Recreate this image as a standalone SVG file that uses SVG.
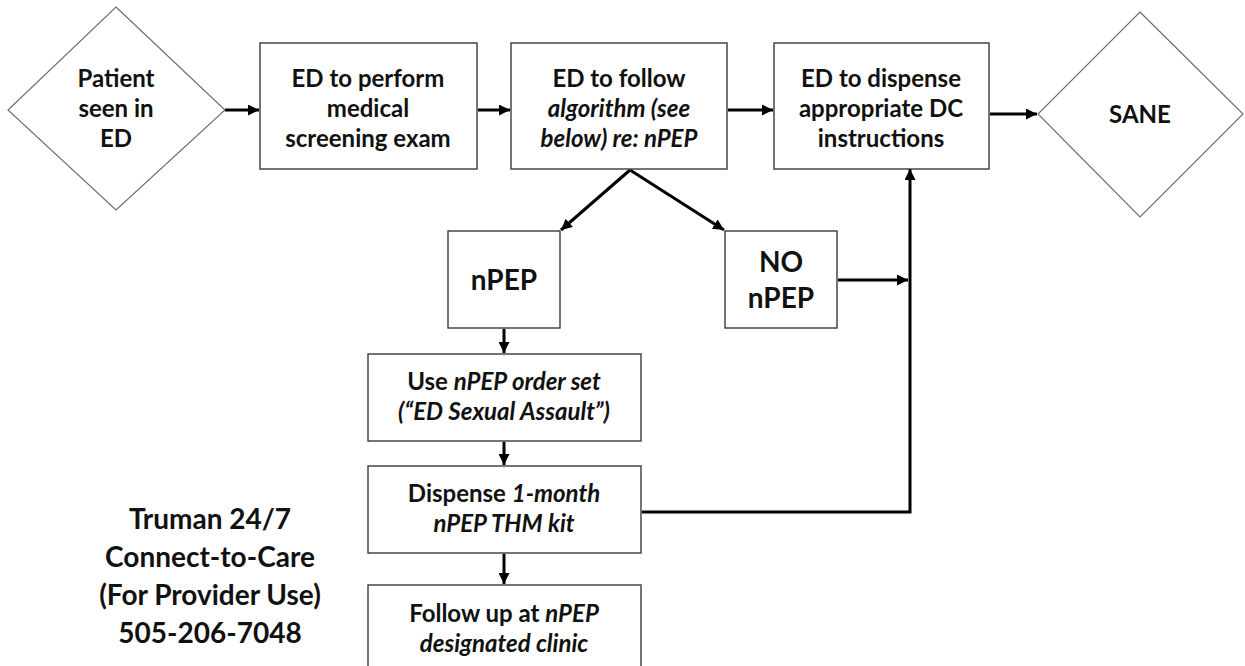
<svg xmlns="http://www.w3.org/2000/svg" width="1245" height="666" viewBox="0 0 1245 666">
<defs>
<style>
.box{fill:#fff;stroke:#3a3a3a;stroke-width:1.4}
.dia{fill:#fff;stroke:#6a6a6a;stroke-width:1.1}
.t{font-family:Lato,"Open Sans","Liberation Sans",sans-serif;font-weight:bold;font-size:24px;fill:#111;text-anchor:middle}
.big{font-size:28px}
.side{font-size:28px}
.i{font-style:italic}
.c{fill:none;stroke:#000;stroke-width:3}
</style>
<marker id="ah" viewBox="0 0 10 10" refX="10" refY="5" markerWidth="11" markerHeight="11" markerUnits="userSpaceOnUse" orient="auto">
<path d="M0,0 L10,5 L0,10 z" fill="#000"/>
</marker>
</defs>
<rect width="1245" height="666" fill="#fff"/>

<g id="connectors">
<line class="c" x1="225" y1="110" x2="259" y2="110" marker-end="url(#ah)"/>
<line class="c" x1="478" y1="110" x2="510" y2="110" marker-end="url(#ah)"/>
<line class="c" x1="728" y1="110" x2="773" y2="110" marker-end="url(#ah)"/>
<line class="c" x1="990" y1="114" x2="1037" y2="114" marker-end="url(#ah)"/>
<line class="c" x1="630" y1="170" x2="561" y2="230" marker-end="url(#ah)"/>
<line class="c" x1="630" y1="170" x2="724" y2="230" marker-end="url(#ah)"/>
<line class="c" x1="504" y1="329" x2="504" y2="353" marker-end="url(#ah)"/>
<line class="c" x1="504" y1="442" x2="504" y2="465" marker-end="url(#ah)"/>
<line class="c" x1="504" y1="554" x2="504" y2="584" marker-end="url(#ah)"/>
<line class="c" x1="838" y1="280" x2="908" y2="280" marker-end="url(#ah)"/>
<polyline class="c" points="642,512 910,512 910,169" marker-end="url(#ah)"/>
</g>

<g id="patient">
<polygon class="dia" points="116,7 225,110 116,210 8,110"/>
<text class="t" x="116" y="87">Patient</text>
<text class="t" x="116" y="117">seen in</text>
<text class="t" x="116" y="147">ED</text>
</g>

<g id="screening">
<rect class="box" x="260" y="43" width="217" height="126"/>
<text class="t" x="368" y="87">ED to perform</text>
<text class="t" x="368" y="117">medical</text>
<text class="t" x="368" y="147">screening exam</text>
</g>

<g id="algorithm">
<rect class="box" x="511" y="43" width="216" height="126"/>
<text class="t" x="619" y="87">ED to follow</text>
<text class="t i" x="619" y="117">algorithm (see</text>
<text class="t i" x="619" y="147">below) re: nPEP</text>
</g>

<g id="dispense-dc">
<rect class="box" x="774" y="43" width="215" height="126"/>
<text class="t" x="881" y="87">ED to dispense</text>
<text class="t" x="881" y="117">appropriate DC</text>
<text class="t" x="881" y="147">instructions</text>
</g>

<g id="sane">
<polygon class="dia" points="1140,12 1243,114 1140,217 1038,114"/>
<text class="t" x="1140" y="123">SANE</text>
</g>

<g id="npep">
<rect class="box" x="448" y="231" width="112" height="97"/>
<text class="t big" x="504" y="290">nPEP</text>
</g>

<g id="no-npep">
<rect class="box" x="725" y="231" width="112" height="97"/>
<text class="t big" x="781" y="272">NO</text>
<text class="t big" x="781" y="308">nPEP</text>
</g>

<g id="order-set">
<rect class="box" x="368" y="354" width="273" height="87"/>
<text class="t" x="504" y="390">Use <tspan class="i">nPEP order set</tspan></text>
<text class="t i" x="504" y="420">(“ED Sexual Assault”)</text>
</g>

<g id="dispense-kit">
<rect class="box" x="368" y="466" width="273" height="87"/>
<text class="t" x="504" y="502">Dispense <tspan class="i">1-month</tspan></text>
<text class="t i" x="504" y="532">nPEP THM kit</text>
</g>

<g id="follow-up">
<rect class="box" x="368" y="585" width="273" height="90"/>
<text class="t" x="504" y="622">Follow up at <tspan class="i">nPEP</tspan></text>
<text class="t i" x="504" y="652">designated clinic</text>
</g>

<g id="truman">
<text class="t side" x="210" y="529">Truman 24/7</text>
<text class="t side" x="210" y="567">Connect-to-Care</text>
<text class="t side" x="210" y="605">(For Provider Use)</text>
<text class="t side" x="210" y="643">505-206-7048</text>
</g>
</svg>
